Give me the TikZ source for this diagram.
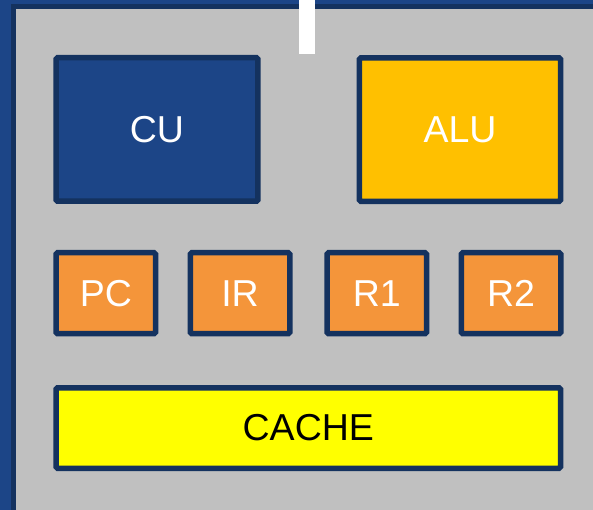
\documentclass[tikz,border=0pt]{standalone}
\usepackage{fontspec}
\setmainfont{Liberation Sans}
\definecolor{bgblue}{HTML}{1C4587}
\definecolor{navy}{HTML}{14325F}
\definecolor{panel}{HTML}{C0C0C0}
\definecolor{alucol}{HTML}{FFC000}
\definecolor{regcol}{HTML}{F4953A}
\definecolor{cachecol}{HTML}{FFFF00}
\tikzset{
  unitbox/.style={draw=navy, line width=5.5pt, rounded corners=1.5pt, inner sep=0pt,
    font=\fontsize{37.5}{40}\selectfont, text=white},
  regbox/.style={unitbox, fill=regcol, minimum width=99.5pt, minimum height=81pt},
}
\begin{document}
\begin{tikzpicture}[x=1pt,y=-1pt]
\useasboundingbox (0,0) rectangle (593,510);
\fill[bgblue] (0,0) rectangle (593,510);
\draw[navy, line width=5.5pt, fill=panel] (13.5,6.3) rectangle (640,560);
\fill[white] (299.3,0) rectangle (315.3,54);
\node[unitbox, fill=bgblue, minimum width=201.9pt, minimum height=143.5pt] (cu) at (157,129.5) {CU};
\node[unitbox, fill=alucol, minimum width=201.1pt, minimum height=143.5pt] (alu) at (460,129.6) {ALU};
\node[regbox] (pc) at (105.8,293.2) {PC};
\node[regbox] (ir) at (240,293.2) {IR};
\node[regbox] (r1) at (376.8,293.2) {R1};
\node[regbox] (r2) at (511,293.2) {R2};
\node[unitbox, fill=cachecol, text=black, minimum width=504.5pt, minimum height=80.5pt] (cache) at (308.3,428) {CACHE};
\end{tikzpicture}
\end{document}
